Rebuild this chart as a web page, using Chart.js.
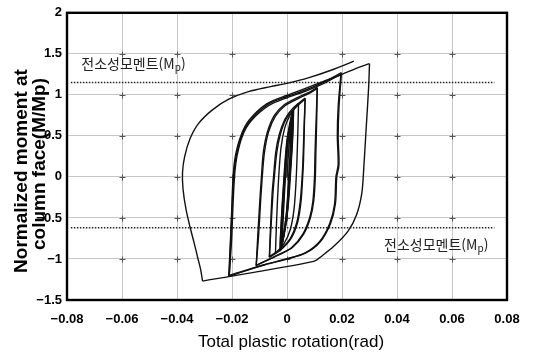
<!DOCTYPE html>
<html lang="ko">
<head>
<meta charset="UTF-8">
<title>Hysteresis</title>
<script src="https://cdn.jsdelivr.net/npm/chart.js@4/dist/chart.umd.min.js"></script>
<style>
  body { margin: 0; background: #fff; }
  .wrap { width: 546px; height: 354px; }
</style>
</head>
<body>
<div class="wrap"><canvas id="myChart"></canvas></div>
<script>
// axis ticks
const xTicks = [-0.08, -0.06, -0.04, -0.02, 0, 0.02, 0.04, 0.06, 0.08];
const xTickLabels = ['\u22120.08', '\u22120.06', '\u22120.04', '\u22120.02', '0', '0.02', '0.04', '0.06', '0.08'];
const yTicks = [-1.5, -1, -0.5, 0, 0.5, 1, 1.5, 2];
const yTickLabels = ['\u22121.5', '\u22121', '\u22120.5', '0', '0.5', '1', '1.5', '2'];

// full plastic moment lines (M/Mp)
const mpUpper = [[-0.0786, 1.15], [0.0754, 1.15]];
const mpLower = [[-0.0786, -0.62], [0.0754, -0.62]];

// small cycles near the origin  [rotation, M/Mp]
const core1 = [[0, 0], [0.0006, 0.32], [0.0012, 0.56], [0.0017, 0.74], [0.0014, 0.45], [0.0007, 0.05], [-0.0001, -0.4], [-0.0011, -0.68], [-0.0017, -0.8], [-0.0013, -0.45], [-0.0006, -0.02], [0.0003, 0.42], [0.0013, 0.66], [0.0019, 0.77]];
const core2 = [[0.0019, 0.77], [0.0016, 0.45], [0.0008, 0.02], [-0.0001, -0.42], [-0.0012, -0.7], [-0.002, -0.84], [-0.0016, -0.5], [-0.0008, -0.02], [0.0002, 0.43], [0.0014, 0.68], [0.0021, 0.79], [0.0018, 0.46], [0.001, 0.03], [0.0001, -0.42], [-0.0012, -0.72], [-0.0022, -0.86]];
const core3 = [[-0.0022, -0.86], [-0.0018, -0.52], [-0.0009, -0.02], [0.0002, 0.44], [0.0015, 0.7], [0.0023, 0.81], [0.002, 0.48], [0.0011, 0.03], [0.0001, -0.43], [-0.0013, -0.74], [-0.0024, -0.88], [-0.002, -0.52], [-0.001, -0.02], [0.0001, 0.45], [0.0016, 0.72], [0.0024, 0.82]];
const core4 = [[0.0024, 0.82], [0.0021, 0.5], [0.0013, 0.05], [0.0003, -0.4], [-0.0011, -0.72], [-0.0025, -0.9], [-0.0021, -0.55], [-0.0012, -0.05], [-0.0001, 0.42], [0.0013, 0.7], [0.0022, 0.8]];

const c5Up = [[-0.0042, -0.93], [-0.0038, -0.55], [-0.0031, -0.05], [-0.0022, 0.35], [-0.0008, 0.6], [0.0012, 0.76], [0.0042, 0.9]];
const c5Down = [[0.0042, 0.9], [0.0039, 0.5], [0.0034, 0.02], [0.0026, -0.38], [0.0012, -0.64], [-0.0012, -0.82], [-0.0042, -0.93]];

const c7Up1 = [[-0.0064, -0.98], [-0.006, -0.62], [-0.0054, -0.2], [-0.0049, 0], [-0.0041, 0.3], [-0.0028, 0.52], [-0.0008, 0.7], [0.002, 0.83], [0.0066, 0.96]];
const c7Down1 = [[0.0066, 0.96], [0.0063, 0.6], [0.006, 0.2], [0.0057, 0], [0.0051, -0.3], [0.0039, -0.55], [0.0015, -0.75], [-0.002, -0.88], [-0.0064, -0.98]];
const c7Up2 = [[-0.0064, -0.98], [-0.0058, -0.6], [-0.0051, -0.2], [-0.0046, 0], [-0.0037, 0.3], [-0.0024, 0.52], [-0.0004, 0.7], [0.0024, 0.82], [0.0066, 0.95]];
const c7Down2 = [[0.0066, 0.95], [0.0062, 0.6], [0.0058, 0.2], [0.0055, 0], [0.0048, -0.3], [0.0036, -0.55], [0.0012, -0.75], [-0.0023, -0.88], [-0.0065, -0.97]];

const c10Up1 = [[-0.0112, -1.08], [-0.0106, -0.7], [-0.0099, -0.3], [-0.0093, 0], [-0.0086, 0.3], [-0.0071, 0.55], [-0.0046, 0.75], [-0.001, 0.88], [0.004, 0.97], [0.008, 1.03], [0.011, 1.09]];
const c10Down1 = [[0.011, 1.09], [0.0108, 0.7], [0.0105, 0.3], [0.0103, 0], [0.0097, -0.3], [0.0085, -0.5], [0.006, -0.7], [0.002, -0.86], [-0.003, -0.95], [-0.0112, -1.08]];
const c10Up2 = [[-0.0112, -1.08], [-0.0103, -0.7], [-0.0096, -0.3], [-0.009, 0], [-0.0082, 0.3], [-0.0067, 0.55], [-0.0042, 0.74], [-0.0006, 0.87], [0.0044, 0.96], [0.0082, 1.02], [0.011, 1.08]];
const c10Down2 = [[0.011, 1.08], [0.0106, 0.7], [0.0102, 0.3], [0.01, 0], [0.0094, -0.3], [0.0082, -0.5], [0.0057, -0.7], [0.0017, -0.86], [-0.0033, -0.95], [-0.0113, -1.08]];

const c20Up1 = [[-0.021, -1.2], [-0.0205, -0.8], [-0.02, -0.4], [-0.0194, 0], [-0.0185, 0.25], [-0.0165, 0.5], [-0.0135, 0.68], [-0.007, 0.88], [0, 0.98], [0.006, 1.05], [0.013, 1.15], [0.0198, 1.27]];
const c20Down1 = [[0.0198, 1.27], [0.0189, 0.85], [0.0186, 0.5], [0.0189, 0.15], [0.0181, 0], [0.0176, -0.33], [0.0158, -0.57], [0.0121, -0.79], [0.0067, -0.93], [0, -1.0], [-0.008, -1.07], [-0.021, -1.2]];
const c20Up2 = [[-0.021, -1.2], [-0.0202, -0.8], [-0.0197, -0.4], [-0.0191, 0], [-0.0182, 0.25], [-0.0162, 0.5], [-0.0131, 0.68], [-0.0066, 0.87], [0.0004, 0.97], [0.0064, 1.04], [0.0134, 1.14], [0.0196, 1.25]];
const c20Down2 = [[0.0196, 1.25], [0.0186, 0.85], [0.0183, 0.5], [0.0186, 0.15], [0.0178, 0], [0.0173, -0.33], [0.0155, -0.57], [0.0118, -0.79], [0.0064, -0.93], [-0.0003, -1.0], [-0.0083, -1.07], [-0.0212, -1.21]];

const c30Up = [[-0.0212, -1.21], [-0.0206, -0.8], [-0.0201, -0.4], [-0.0196, 0], [-0.0188, 0.25], [-0.0168, 0.5], [-0.0138, 0.69], [-0.0074, 0.89], [-0.0004, 0.99], [0.006, 1.07], [0.013, 1.16], [0.02, 1.25], [0.025, 1.32], [0.03, 1.38]];
const c30Down = [[0.03, 1.38], [0.0297, 1.1], [0.0288, 0.6], [0.0279, 0.1], [0.0272, -0.2], [0.0253, -0.46], [0.0222, -0.66], [0.0172, -0.84], [0.0128, -0.96], [0.0097, -1.03], [-0.0307, -1.27]];

const finalUp = [[-0.0307, -1.27], [-0.0314, -1.13], [-0.0325, -0.98], [-0.0338, -0.8], [-0.0352, -0.62], [-0.0367, -0.4], [-0.0378, -0.15], [-0.038, 0.05], [-0.0372, 0.25], [-0.0352, 0.47], [-0.0322, 0.65], [-0.027, 0.82], [-0.021, 0.95], [-0.014, 1.04], [-0.006, 1.1], [0, 1.14], [0.008, 1.21], [0.016, 1.3], [0.0243, 1.41]];

const loops = [core1, core2, core3, core4, c5Up, c5Down, c7Up1, c7Down1, c7Up2, c7Down2,
  c10Up1, c10Down1, c10Up2, c10Down2, c20Up1, c20Down1, c20Up2, c20Down2, c30Up, c30Down, finalUp];

const toPts = arr => arr.map(p => ({ x: p[0], y: p[1] }));

const datasets = loops.map(arr => ({
    data: toPts(arr),
    showLine: true,
    borderColor: '#111',
    borderWidth: 1.4,
    pointRadius: 0,
    tension: 0.3,
    fill: false
}));
[mpUpper, mpLower].forEach(arr => datasets.push({
    data: toPts(arr),
    showLine: true,
    borderColor: '#222',
    borderWidth: 1.6,
    borderDash: [1.5, 1.5],
    pointRadius: 0,
    tension: 0
}));

function drawMpLabel(ctx, px, py) {
    ctx.font = '14px "Noto Sans CJK KR"';
    ctx.textAlign = 'left';
    ctx.textBaseline = 'middle';
    const a = '\uC804\uC18C\uC131\uBAA8\uBA58\uD2B8(M';
    ctx.fillText(a, px, py);
    let w = ctx.measureText(a).width;
    ctx.font = '10px "Noto Sans CJK KR"';
    ctx.fillText('p', px + w, py + 4);
    w += ctx.measureText('p').width;
    ctx.font = '14px "Noto Sans CJK KR"';
    ctx.fillText(')', px + w, py);
}

const decor = {
    id: 'decor',
    beforeDatasetsDraw(chart) {
        const { ctx, scales: { x, y } } = chart;
        ctx.save();
        ctx.strokeStyle = '#555';
        ctx.lineWidth = 1;
        xTicks.slice(1, -1).forEach(xv => {
            yTicks.slice(1, -1).forEach(yv => {
                const px = Math.round(x.getPixelForValue(xv)) + 0.5;
                const py = Math.round(y.getPixelForValue(yv)) + 0.5;
                ctx.beginPath();
                ctx.moveTo(px - 3, py); ctx.lineTo(px + 3, py);
                ctx.moveTo(px, py - 3); ctx.lineTo(px, py + 3);
                ctx.stroke();
            });
        });
        ctx.restore();
    },
    afterDraw(chart) {
        const { ctx, chartArea: a, scales: { x, y } } = chart;
        ctx.save();
        // frame
        ctx.strokeStyle = '#000';
        ctx.lineWidth = 2.4;
        ctx.strokeRect(a.left, a.top, a.right - a.left, a.bottom - a.top);

        ctx.fillStyle = '#222';
        drawMpLabel(ctx, x.getPixelForValue(-0.0748), y.getPixelForValue(1.38));
        drawMpLabel(ctx, x.getPixelForValue(0.0353), y.getPixelForValue(-0.82));

        // axis titles
        ctx.fillStyle = '#000';
        ctx.textAlign = 'center';
        ctx.textBaseline = 'middle';
        ctx.font = '17px "Liberation Sans"';
        ctx.fillText('Total plastic rotation(rad)', 291, 342);

        ctx.font = 'bold 19px "Liberation Sans"';
        ctx.save();
        ctx.translate(22, 171);
        ctx.rotate(-Math.PI / 2);
        ctx.fillText('Normalized moment at', 0, 0);
        ctx.restore();
        ctx.save();
        ctx.translate(40, 164);
        ctx.rotate(-Math.PI / 2);
        ctx.fillText('column face(M/Mp)', 0, 0);
        ctx.restore();
        ctx.restore();
    }
};

const tickFont = { family: 'Liberation Sans', size: 13, weight: 'bold' };

new Chart(document.getElementById('myChart'), {
    type: 'scatter',
    data: { datasets: datasets },
    plugins: [decor],
    options: {
        responsive: true,
        maintainAspectRatio: false,
        animation: false,
        layout: { padding: { left: 0, right: 39, top: 11, bottom: 0 } },
        plugins: { legend: { display: false }, tooltip: { enabled: false } },
        scales: {
            x: {
                type: 'linear',
                min: -0.08,
                max: 0.08,
                afterFit(scale) { scale.height = 54; },
                afterBuildTicks(scale) { scale.ticks = xTicks.map(v => ({ value: v })); },
                ticks: {
                    font: tickFont,
                    color: '#000',
                    padding: 12,
                    maxRotation: 0,
                    callback: (v, i) => xTickLabels[i]
                },
                grid: { color: 'rgba(0,0,0,0.22)', borderDash: [3, 12], drawTicks: false },
                border: { display: false }
            },
            y: {
                type: 'linear',
                min: -1.5,
                max: 2,
                afterFit(scale) { scale.width = 67; },
                afterBuildTicks(scale) { scale.ticks = yTicks.map(v => ({ value: v })); },
                ticks: {
                    font: tickFont,
                    color: '#000',
                    padding: 5,
                    callback: (v, i) => yTickLabels[i]
                },
                grid: { color: 'rgba(0,0,0,0.22)', borderDash: [3, 12], drawTicks: false },
                border: { display: false }
            }
        }
    }
});
</script>
</body>
</html>
